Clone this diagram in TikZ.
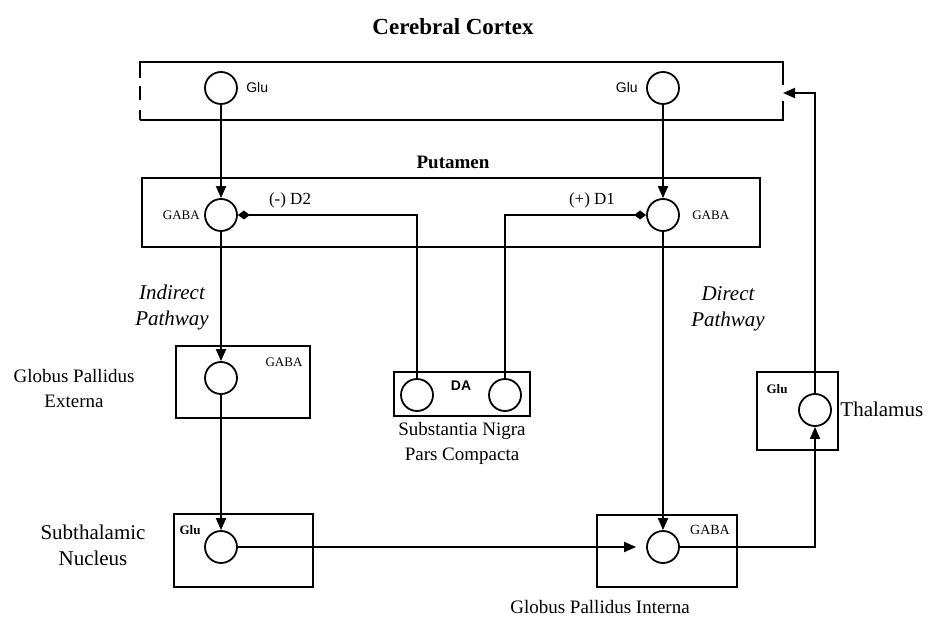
\documentclass[tikz,border=0pt]{standalone}
\usepackage{fontspec}
\setmainfont{Liberation Serif}
\setsansfont{Liberation Sans}
\usepackage{tikz}
\usetikzlibrary{positioning, arrows.meta}
\tikzset{
  neuron/.style={circle, draw, line width=0.9pt, minimum size=16pt, inner sep=0pt},
  nucleus/.style={draw, line width=0.9pt, inner sep=0pt},
  area/.style={font=\fontsize{9.5}{12.5}\selectfont, align=center, inner sep=1pt},
  areabig/.style={area, font=\fontsize{10.5}{13}\selectfont},
  areabf/.style={area, font=\fontsize{9.5}{12.5}\selectfont\bfseries},
  path/.style={font=\fontsize{10.5}{13}\selectfont\itshape, align=center, inner sep=1pt},
  tag/.style={font=\fontsize{6.5}{7}\selectfont, inner sep=1pt},
  sftag/.style={tag, font=\sffamily\fontsize{7}{8}\selectfont},
  bftag/.style={tag, font=\bfseries\fontsize{6.5}{7}\selectfont},
  wire/.style={line width=0.9pt},
  excite/.style={wire, -{Triangle[length=6pt,width=5pt]}},
  modul/.style={wire, -{Diamond[length=6pt,width=4.5pt]}},
}
\begin{document}
\begin{tikzpicture}[x=0.5pt, y=-0.5pt]
  \useasboundingbox (0,0) rectangle (940,619);
  % cortex (box open on the right for the thalamic input)
  \node[areabf, font=\fontsize{11.5}{13}\selectfont\bfseries] (ctxlab) at (453,27) {Cerebral Cortex};
  \draw[wire] (783,85) -- (783,62) -- (140,62) -- (140,78);
  \draw[wire, dash pattern=on 7pt off 5pt] (140,86) -- (140,120);
  \draw[wire] (140,120) -- (783,120) -- (783,101);
  \coordinate (ctxin) at (783,93);
  \node[neuron] (ctxL) at (221,88) {};
  \node[neuron] (ctxR) at (663,88) {};
  \node[sftag, right=3pt of ctxL] {Glu};
  \node[sftag, left=3pt of ctxR] {Glu};
  % putamen
  \node[areabf] (putlab) at (453,162) {Putamen};
  \node[nucleus, minimum width=309pt, minimum height=34.5pt] (put) at (451,212.5) {};
  \node[neuron] (putL) at (221,215) {};
  \node[neuron] (putR) at (663,215) {};
  \node[tag, left=1pt of putL] {GABA};
  \node[tag, right=5pt of putR] {GABA};
  \node[tag, font=\fontsize{8.5}{9}\selectfont] (d2) at (290,200) {(-) D2};
  \node[tag, font=\fontsize{8.5}{9}\selectfont] (d1) at (592,200) {(+) D1};
  % pathway labels
  \node[path] (indir) at (172,307) {Indirect\\Pathway};
  \node[path] (dir) at (728,309) {Direct\\Pathway};
  % globus pallidus externa
  \node[nucleus, minimum width=67pt, minimum height=36pt] (gpe) at (243,382) {};
  \node[neuron] (gpeN) at (221,378) {};
  \node[tag] at (284,362) {GABA};
  \node[area] (gpelab) at (74,388) {Globus Pallidus\\Externa};
  % substantia nigra pars compacta
  \node[nucleus, minimum width=68pt, minimum height=22pt] (snc) at (462,394) {};
  \node[neuron] (sncL) at (417,395) {};
  \node[neuron] (sncR) at (505,395) {};
  \node[tag, font=\sffamily\bfseries\fontsize{7}{8}\selectfont] at (461,386) {DA};
  \node[area] (snclab) at (462,443) {Substantia Nigra\\Pars Compacta};
  % thalamus
  \node[nucleus, minimum width=40.5pt, minimum height=39pt] (thal) at (797.5,411) {};
  \node[neuron] (thalN) at (815,410) {};
  \node[bftag] at (777,389) {Glu};
  \node[areabig, anchor=west] (thallab) at (838,409) {Thalamus};
  % subthalamic nucleus
  \node[nucleus, minimum width=69.5pt, minimum height=36.5pt] (stn) at (243.5,550.5) {};
  \node[neuron] (stnN) at (221,547) {};
  \node[bftag] at (190,530) {Glu};
  \node[areabig] (stnlab) at (93,545) {Subthalamic\\Nucleus};
  % globus pallidus interna
  \node[nucleus, minimum width=70pt, minimum height=36pt] (gpi) at (667,551) {};
  \node[neuron] (gpiN) at (663,547) {};
  \node[tag, font=\fontsize{7}{8}\selectfont] at (710,530) {GABA};
  \node[area] (gpilab) at (600,607) {Globus Pallidus Interna};
  % connections
  \draw[excite] (ctxL) -- (putL);
  \draw[excite] (ctxR) -- (putR);
  \draw[excite] (putL) -- (gpeN);
  \draw[excite] (gpeN) -- (stnN);
  \draw[excite] (putR) -- (gpiN);
  \draw[excite, shorten >=5pt] (stnN) -- (gpiN);
  \draw[modul] (sncL.north) |- (putL.east);
  \draw[modul] (sncR.north) |- (putR.west);
  \draw[excite] (gpiN.east) -| (thalN.south);
  \draw[excite] (thalN.north) |- (ctxin);
\end{tikzpicture}
\end{document}
